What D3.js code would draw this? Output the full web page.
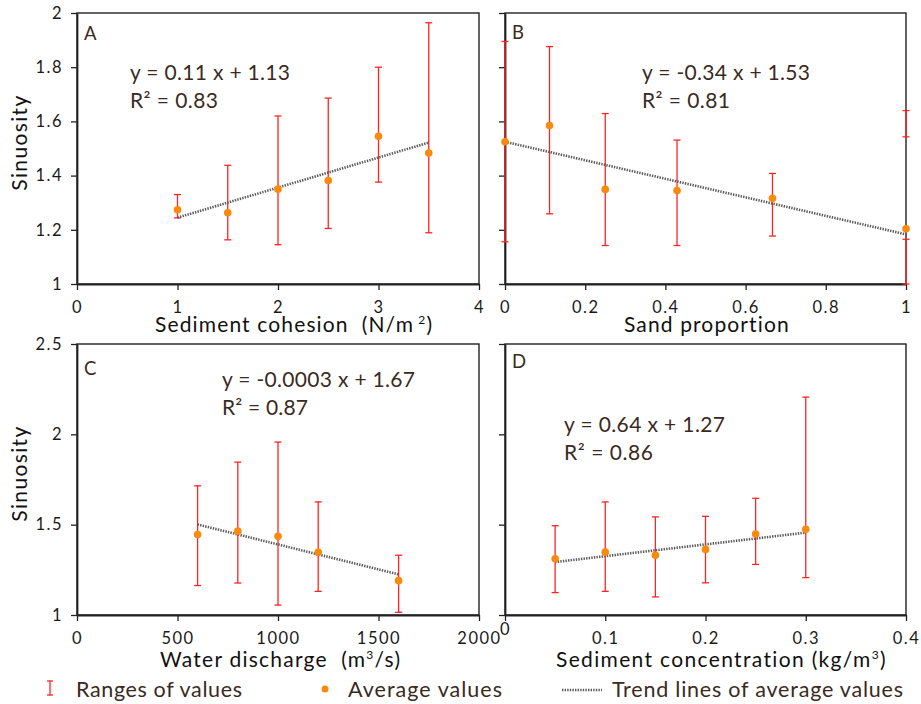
<!DOCTYPE html>
<html>
<head>
<meta charset="utf-8">
<script src="https://cdn.jsdelivr.net/npm/d3@7/dist/d3.min.js"></script>
<style>
    body { margin: 0; background: #fff; }
    svg text { font-family: Lato, "Noto Sans", sans-serif; white-space: pre; }
</style>
</head>
<body>
<svg id="sinSvg" width="921" height="704"></svg>
<script>
// ---- data ----
// A: sediment cohesion
var xA = [1, 1.5, 2, 2.5, 3, 3.5];
var avgA = [1.274, 1.263, 1.350, 1.382, 1.545, 1.483];
var lowA = [1.244, 1.163, 1.145, 1.205, 1.376, 1.189];
var highA = [1.330, 1.438, 1.620, 1.686, 1.800, 1.964];
var trendA = [[1, 1.245], [3.5, 1.522]];

// B: sand proportion (range at x=1 is drawn in two pieces in the original)
var xB = [0, 0.111, 0.25, 0.429, 0.667, 1];
var avgB = [1.525, 1.585, 1.349, 1.345, 1.316, 1.204];
var barXB = [0, 0.111, 0.25, 0.429, 0.667, 1, 1];
var lowB = [1.156, 1.259, 1.142, 1.142, 1.177, 1.0, 1.543];
var highB = [1.895, 1.876, 1.629, 1.531, 1.408, 1.165, 1.640];
var trendB = [[0, 1.525], [1, 1.183]];

// C: water discharge
var xC = [600, 800, 1000, 1200, 1600];
var avgC = [1.445, 1.464, 1.436, 1.347, 1.190];
var lowC = [1.163, 1.177, 1.055, 1.131, 1.015];
var highC = [1.715, 1.846, 1.957, 1.626, 1.331];
var trendC = [[600, 1.501], [1600, 1.225]];

// D: sediment concentration
var xD = [0.05, 0.1, 0.15, 0.2, 0.25, 0.3];
var avgD = [1.311, 1.348, 1.331, 1.363, 1.448, 1.474];
var lowD = [1.124, 1.131, 1.100, 1.178, 1.280, 1.207];
var highD = [1.494, 1.626, 1.543, 1.546, 1.646, 2.206];
var trendD = [[0.05, 1.293], [0.3, 1.456]];

// ticks
var yTicksTop = [1, 1.2, 1.4, 1.6, 1.8, 2];
var yTicksBottom = [1, 1.5, 2, 2.5];
var xTicksA = [0, 1, 2, 3, 4];
var xTicksB = [0, 0.2, 0.4, 0.6, 0.8, 1];
var xTicksC = [0, 500, 1000, 1500, 2000];
var xTicksD = [0, 0.1, 0.2, 0.3, 0.4];

// labels
var eqA = ["y = 0.11 x + 1.13", "R² = 0.83"];
var eqB = ["y = -0.34 x + 1.53", "R² = 0.81"];
var eqC = ["y = -0.0003 x + 1.67", "R² = 0.87"];
var eqD = ["y = 0.64 x + 1.27", "R² = 0.86"];
var legendLabels = ["Ranges of values", "Average values", "Trend lines of average values"];

var svg = d3.select("#sinSvg");
var RED = "#ff2424", ORANGE = "#fb8a0c", TEXT = "#3a2a22", AXIS = "#222";

// the original text is spread out; stretch letter spacing to the measured width
function fitWidth(sel, target) {
    var node = sel.node();
    var w = node.getComputedTextLength();
    var n = node.getNumberOfChars();
    if (n > 1) sel.attr("letter-spacing", (target - w) / (n - 1));
}

function drawPanel(p) {
    var g = svg.append("g");
    var x = d3.scaleLinear().domain(p.xDomain).range([p.left, p.right]);
    var y = d3.scaleLinear().domain(p.yDomain).range([p.bottom, p.top]);

    // frame
    g.append("rect")
        .attr("x", p.left).attr("y", p.top)
        .attr("width", p.right - p.left).attr("height", p.bottom - p.top)
        .attr("fill", "none").attr("stroke", AXIS).attr("stroke-width", 1.4);

    var yAxis = d3.axisLeft(y).tickValues(p.yTicks).tickSize(6).tickSizeOuter(0).tickPadding(8)
        .tickFormat(p.yLabels ? function (d) { return String(d); } : "");
    var ya = g.append("g").attr("transform", "translate(" + p.left + ",0)").call(yAxis);

    var xAxis = d3.axisBottom(x).tickValues(p.xTicks).tickSize(6).tickSizeOuter(0).tickPadding(11)
        .tickFormat(function (d) { return String(d); });
    var xa = g.append("g").attr("transform", "translate(0," + p.bottom + ")").call(xAxis);

    [ya, xa].forEach(function (a) {
        a.select(".domain").attr("stroke", AXIS).attr("stroke-width", 1.8);
        a.selectAll(".tick line").attr("stroke", AXIS).attr("stroke-width", 1.3);
        a.selectAll(".tick text").attr("fill", "#1a1a1a").attr("font-size", 16.5)
            .attr("font-family", "Lato, sans-serif").attr("letter-spacing", 1.5);
    });
    if (p.raiseZero) {
        xa.select(".tick text").attr("dy", "0.18em");
    }

    // error bars
    var bars = g.append("g").attr("stroke", RED).attr("stroke-width", 1.3);
    p.barX.forEach(function (bx, i) {
        var cx = x(bx);
        bars.append("line").attr("x1", cx).attr("x2", cx)
            .attr("y1", y(p.low[i])).attr("y2", y(p.high[i]));
        [p.low[i], p.high[i]].forEach(function (v) {
            bars.append("line").attr("x1", cx - 3.5).attr("x2", cx + 3.5)
                .attr("y1", y(v)).attr("y2", y(v));
        });
    });

    // trend line
    var lineFun = d3.line()
        .x(function (d) { return x(d[0]); })
        .y(function (d) { return y(d[1]); });
    g.append("path")
        .attr("d", lineFun(p.trend))
        .attr("fill", "none")
        .attr("stroke", "#5a5a5a")
        .attr("stroke-width", 2.6)
        .attr("stroke-dasharray", "1.4,1.2");

    // average points
    g.append("g").selectAll("circle").data(p.xs).enter()
        .append("circle")
        .attr("cx", function (d) { return x(d); })
        .attr("cy", function (d, i) { return y(p.avg[i]); })
        .attr("r", 3.8)
        .attr("fill", ORANGE);

    // panel letter
    g.append("text").attr("x", p.left + 7).attr("y", p.top + p.letterDy)
        .attr("font-size", 18.5).attr("fill", TEXT).text(p.letter);

    // regression text
    p.eq.forEach(function (line, i) {
        var t = g.append("text")
            .attr("x", p.eqX).attr("y", p.eqY + i * 28)
            .attr("font-size", 21).attr("fill", TEXT)
            .text(line);
        fitWidth(t, p.eqW[i]);
    });

    // axis title
    var t = g.append("text").attr("x", p.titleX).attr("y", p.bottom + p.titleDy)
        .attr("font-size", 21).attr("fill", "#111");
    t.append("tspan").text(p.title[0]);
    if (p.title.length > 1) {
        t.append("tspan").attr("dy", -8).attr("font-size", 12).text(p.title[1]);
        t.append("tspan").attr("dy", 8).text(p.title[2]);
    }
    fitWidth(t, p.titleW);

    // y title
    if (p.yLabels) {
        var cy = (p.top + p.bottom) / 2 - 6;
        var s = g.append("text")
            .attr("transform", "translate(27," + cy + ") rotate(-90)")
            .attr("text-anchor", "middle")
            .attr("font-size", 21).attr("fill", "#111")
            .text("Sinuosity");
        fitWidth(s, 95);
    }
}

drawPanel({
    left: 77, right: 479, top: 13, bottom: 284,
    xDomain: [0, 4], yDomain: [1, 2], xTicks: xTicksA, yTicks: yTicksTop, yLabels: true,
    xs: xA, avg: avgA, barX: xA, low: lowA, high: highA, trend: trendA,
    letter: "A", letterDy: 27, eq: eqA, eqX: 130, eqY: 80, eqW: [160, 88],
    title: ["Sediment cohesion  (N/m", " 2", ")"], titleX: 155, titleW: 277, titleDy: 48
});
drawPanel({
    left: 505, right: 906, top: 13, bottom: 284,
    xDomain: [0, 1], yDomain: [1, 2], xTicks: xTicksB, yTicks: yTicksTop, yLabels: false,
    xs: xB, avg: avgB, barX: barXB, low: lowB, high: highB, trend: trendB,
    letter: "B", letterDy: 26, eq: eqB, eqX: 642, eqY: 80, eqW: [168, 88],
    title: ["Sand proportion"], titleX: 624, titleW: 165, titleDy: 48
});
drawPanel({
    left: 77, right: 479, top: 344, bottom: 615,
    xDomain: [0, 2000], yDomain: [1, 2.5], xTicks: xTicksC, yTicks: yTicksBottom, yLabels: true,
    xs: xC, avg: avgC, barX: xC, low: lowC, high: highC, trend: trendC,
    letter: "C", letterDy: 31, eq: eqC, eqX: 222, eqY: 387, eqW: [193, 86],
    title: ["Water discharge  (m", "3", "/s)"], titleX: 160, titleW: 240, titleDy: 52
});
drawPanel({
    left: 505, right: 906, top: 344, bottom: 615,
    xDomain: [0, 0.4], yDomain: [1, 2.5], xTicks: xTicksD, yTicks: yTicksBottom, yLabels: false,
    xs: xD, avg: avgD, barX: xD, low: lowD, high: highD, trend: trendD, raiseZero: true,
    letter: "D", letterDy: 24, eq: eqD, eqX: 564, eqY: 432, eqW: [161, 89],
    title: ["Sediment concentration (kg/m", "3", ")"], titleX: 556, titleW: 330, titleDy: 52
});

// ---- legend ----
var lg = svg.append("g");
lg.append("line").attr("x1", 50).attr("x2", 50).attr("y1", 681).attr("y2", 695)
    .attr("stroke", RED).attr("stroke-width", 1.3);
[681, 695].forEach(function (v) {
    lg.append("line").attr("x1", 47).attr("x2", 53).attr("y1", v).attr("y2", v)
        .attr("stroke", RED).attr("stroke-width", 1.3);
});
lg.append("circle").attr("cx", 325).attr("cy", 689).attr("r", 3.5).attr("fill", ORANGE);
lg.append("line").attr("x1", 562).attr("x2", 602).attr("y1", 690).attr("y2", 690)
    .attr("stroke", "#5a5a5a").attr("stroke-width", 2.6).attr("stroke-dasharray", "1.4,1.2");
var legendX = [76, 348, 612];
var legendW = [166, 154, 291];
legendLabels.forEach(function (d, i) {
    var t = lg.append("text")
        .attr("x", legendX[i]).attr("y", 697)
        .attr("font-size", 21.5).attr("fill", TEXT)
        .text(d);
    fitWidth(t, legendW[i]);
});
</script>
</body>
</html>
